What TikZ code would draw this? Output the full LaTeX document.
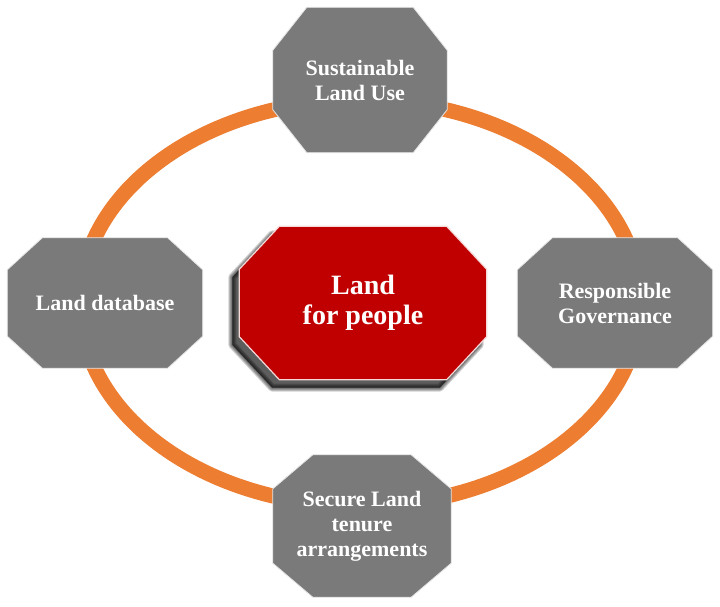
\documentclass[tikz,border=0pt]{standalone}
\usepackage{fontspec}
\setmainfont{Liberation Serif}
\usetikzlibrary{backgrounds,shapes.geometric}
\definecolor{ringorange}{RGB}{237,125,49}
\definecolor{octgray}{RGB}{122,122,122}
\definecolor{centerred}{RGB}{192,0,0}
\tikzset{
  octtext/.style={text=white,font=\fontsize{22}{25}\selectfont\bfseries,align=center,inner sep=0pt},
  centertext/.style={text=white,font=\fontsize{28}{30}\selectfont\bfseries,align=center,inner sep=0pt},
  graybox/.style={fill=octgray,draw=white!80!octgray,line width=0.8pt},
  redbox/.style={fill=centerred,draw=white!85!centerred,line width=1.2pt},
  shadowlayer/.style={fill=black,draw=black,opacity=0.18,line join=round},
  shadowshift/.style={xshift=-7pt,yshift=-8pt},
  ring/.style={draw=ringorange,line width=15pt}
}
\newcommand\octagon[5][]{%
  \path[#5] ([#1,xshift=#3]#2.north west) -- ([#1,xshift=-#3]#2.north east)
   -- ([#1,yshift=-#4]#2.north east) -- ([#1,yshift=#4]#2.south east)
   -- ([#1,xshift=-#3]#2.south east) -- ([#1,xshift=#3]#2.south west)
   -- ([#1,yshift=#4]#2.south west) -- ([#1,yshift=-#4]#2.north west) -- cycle;}
\begin{document}
\begin{tikzpicture}[x=1pt,y=-1pt]
\useasboundingbox (0,0) rectangle (720,606);
\node[octtext,minimum width=174pt,minimum height=145pt] (top) at (360,80) {Sustainable\\Land Use};
\node[octtext,minimum width=195pt,minimum height=130pt] (left) at (105,303) {Land database};
\node[octtext,minimum width=195pt,minimum height=130pt] (right) at (615,303) {Responsible\\Governance};
\node[octtext,minimum width=178pt,minimum height=142pt] (bottom) at (362,526) {Secure Land\\tenure\\arrangements};
\node[centertext,minimum width=247pt,minimum height=153pt] (center) at (363,303) {Land\\for people};
\begin{pgfonlayer}{background}
  \fill[white] (0,0) rectangle (720,606);
  \node[ring,ellipse,minimum width=560pt,minimum height=406pt,inner sep=0pt] (ringnode) at (360,303) {};
  \octagon{top}{34pt}{43pt}{graybox}
  \octagon{left}{35pt}{32pt}{graybox}
  \octagon{right}{35pt}{32pt}{graybox}
  \octagon{bottom}{40pt}{34pt}{graybox}
  \foreach \w in {8,6,4,2,0.1}{\octagon[shadowshift]{center}{40pt}{43pt}{shadowlayer,line width=\w pt}}
  \octagon{center}{40pt}{43pt}{redbox}
\end{pgfonlayer}
\end{tikzpicture}
\end{document}
